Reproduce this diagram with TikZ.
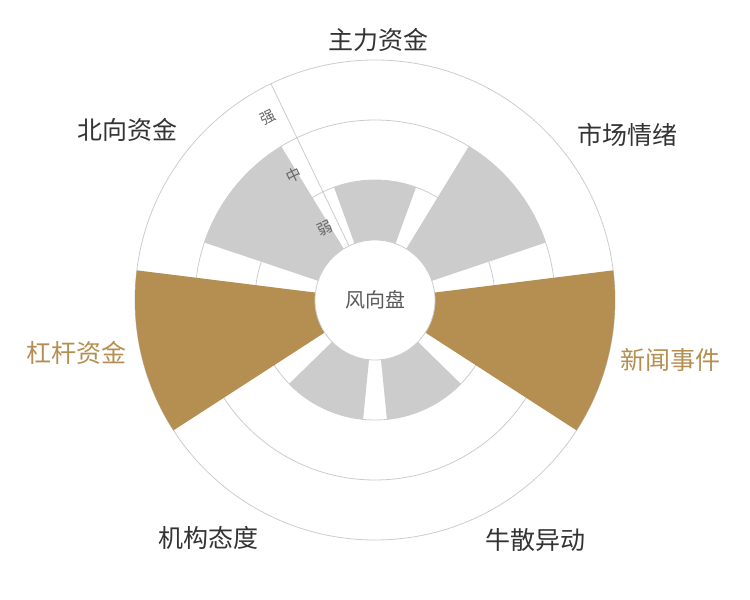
\documentclass[tikz,border=0pt]{standalone}
\usepackage{fontspec}
\setmainfont{Noto Sans CJK SC}
\begin{document}
\begin{tikzpicture}[x=1pt,y=1pt,
  grid/.style={draw=black!20,line width=0.8pt},
  graybar/.style={fill=black!20},
  goldbar/.style={fill=gold},
  lab/.style={font=\fontsize{25}{25}\selectfont,text=black!80},
  glab/.style={font=\fontsize{25}{25}\selectfont,text=gold},
  ax/.style={font=\fontsize{15}{15}\selectfont,text=black!60,rotate=25.7}]
\definecolor{gold}{HTML}{B58F52}
\useasboundingbox (0,0) rectangle (750,600);
\coordinate (c) at (375,300);
\draw[grid] (c) circle (120);
\draw[grid] (c) circle (180);
\draw[grid] (c) circle (240);
\def\bar#1#2#3{% center angle, radius, style
  \path[#3] ($(c)+(#1-20:60)$) arc (#1-20:#1+20:60) -- ($(c)+(#1+20:#2)$) arc (#1+20:#1-20:#2) -- cycle;}
\begin{scope}
\path[graybar] ([shift={(70:60)}]c) arc (70:110:60) -- ([shift={(110:120)}]c) arc (110:70:120) -- cycle;
\path[graybar] ([shift={(18.6:60)}]c) arc (18.6:58.6:60) -- ([shift={(58.6:180)}]c) arc (58.6:18.6:180) -- cycle;
\path[goldbar] ([shift={(-32.9:60)}]c) arc (-32.9:7.1:60) -- ([shift={(7.1:240)}]c) arc (7.1:-32.9:240) -- cycle;
\path[graybar] ([shift={(-84.3:60)}]c) arc (-84.3:-44.3:60) -- ([shift={(-44.3:120)}]c) arc (-44.3:-84.3:120) -- cycle;
\path[graybar] ([shift={(-135.7:60)}]c) arc (-135.7:-95.7:60) -- ([shift={(-95.7:120)}]c) arc (-95.7:-135.7:120) -- cycle;
\path[goldbar] ([shift={(172.9:60)}]c) arc (172.9:212.9:60) -- ([shift={(212.9:240)}]c) arc (212.9:172.9:240) -- cycle;
\path[graybar] ([shift={(121.4:60)}]c) arc (121.4:161.4:60) -- ([shift={(161.4:180)}]c) arc (161.4:121.4:180) -- cycle;
\end{scope}
\coordinate (a0) at ([shift={(115.7:60)}]c);
\coordinate (a1) at ([shift={(115.7:240)}]c);
\draw[grid] (a0) -- (a1);
\node[draw=black!20,line width=0.8pt,fill=white,circle,minimum size=120pt,inner sep=0pt,
  font=\fontsize{20}{20}\selectfont,text=black!65] (hub) at (c) {风向盘};
\node[ax] (w) at (325,372) {弱};
\node[ax] (m) at (294,425) {中};
\node[ax] (s) at (268,482) {强};
\node[lab] (n1) at (378,560) {主力资金};
\node[lab] (n2) at (627,465) {市场情绪};
\node[glab] (n3) at (670,240) {新闻事件};
\node[lab] (n4) at (535,60) {牛散异动};
\node[lab] (n5) at (208,62) {机构态度};
\node[glab] (n6) at (77,247) {杠杆资金};
\node[lab] (n7) at (127,470) {北向资金};
\end{tikzpicture}
\end{document}
